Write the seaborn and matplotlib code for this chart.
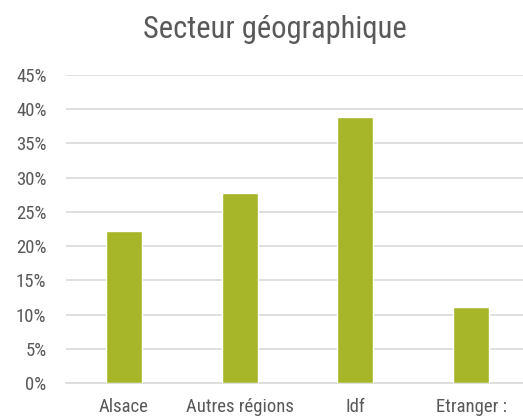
import matplotlib
matplotlib.use("Agg")
import matplotlib.pyplot as plt
import seaborn as sns
import pandas as pd

categories = ["Alsace", "Autres régions", "Idf", "Etranger :"]
shares = [4 / 18, 5 / 18, 7 / 18, 2 / 18]
yticks = [0, 0.05, 0.10, 0.15, 0.20, 0.25, 0.30, 0.35, 0.40, 0.45]
ytick_labels = ["0%", "5%", "10%", "15%", "20%", "25%", "30%", "35%", "40%", "45%"]

df = pd.DataFrame({"secteur": categories, "part": shares})

sns.set_theme(style="white")
plt.rcParams["font.family"] = ["Roboto Condensed", "DejaVu Sans"]

text_color = "#595959"
grid_color = "#d9d9d9"
bar_color = "#a7b629"

fig = plt.figure(figsize=(5.23, 4.18), dpi=100)
ax = fig.add_axes([66 / 523, 35 / 418, 463 / 523, 308 / 418])

sns.barplot(data=df, x="secteur", y="part", color=bar_color, width=0.31,
            saturation=1, ax=ax, zorder=3)

ax.set_ylim(0, 0.45)
ax.set_xlim(-0.5, 3.5)
ax.set_yticks(yticks)
ax.set_yticklabels(ytick_labels)
ax.yaxis.grid(True, color=grid_color, linewidth=1.2, zorder=0)
ax.set_axisbelow(True)
for side in ["top", "right", "left"]:
    ax.spines[side].set_visible(False)
ax.spines["bottom"].set_color(grid_color)
ax.spines["bottom"].set_linewidth(1.2)
ax.tick_params(axis="both", length=0, colors=text_color, labelsize=13.5)
ax.tick_params(axis="y", pad=14)
ax.tick_params(axis="x", pad=11)
ax.set_xlabel("")
ax.set_ylabel("")

fig.text(275 / 523, 1 - 30 / 418, "Secteur géographique", ha="center", va="center",
         fontsize=22, color=text_color)

fig.savefig("out.png", dpi=100)
